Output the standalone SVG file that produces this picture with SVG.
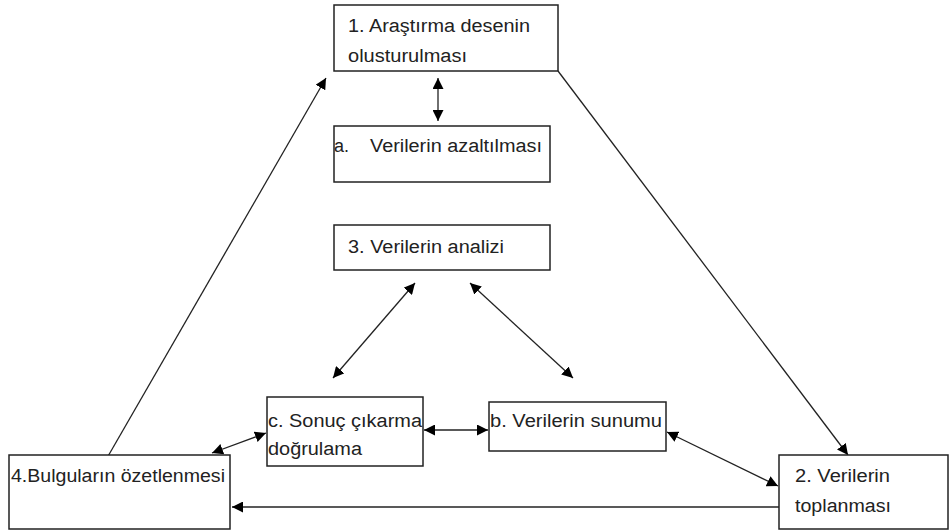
<svg xmlns="http://www.w3.org/2000/svg" width="949" height="531" viewBox="0 0 949 531">
<defs>
<marker id="ah" viewBox="0 0 10 10" refX="10" refY="5" markerWidth="11" markerHeight="11" markerUnits="userSpaceOnUse" orient="auto-start-reverse">
<path d="M0,0 L10,5 L0,10 z" fill="#000"/>
</marker>
<style>
.box{fill:#fff;stroke:#222;stroke-width:1.5}
.t{font-family:"Liberation Sans",Arial,sans-serif;font-size:18px;fill:#222}
.c{stroke:#222;stroke-width:1.3;fill:none}
.e{marker-end:url(#ah)}
.b{marker-start:url(#ah);marker-end:url(#ah)}
</style>
</defs>
<rect width="949" height="531" fill="#fff"/>
<g id="connectors">
<line class="c b" x1="438" y1="78" x2="438" y2="121"/>
<line class="c b" x1="415" y1="283" x2="333" y2="378"/>
<line class="c b" x1="470" y1="283" x2="573" y2="378"/>
<line class="c b" x1="424" y1="430" x2="488" y2="430"/>
<line class="c b" x1="667" y1="432" x2="778" y2="486"/>
<line class="c b" x1="266" y1="433" x2="212" y2="453"/>
<line class="c e" x1="558" y1="71" x2="848" y2="455"/>
<line class="c e" x1="779" y1="507" x2="232" y2="507"/>
<line class="c e" x1="107" y1="458" x2="326" y2="78"/>
</g>
<g id="n1">
<rect class="box" x="334" y="5" width="224" height="66"/>
<text class="t" x="348" y="32" textLength="182" lengthAdjust="spacingAndGlyphs">1. Araştırma desenin</text>
<text class="t" x="348" y="62" textLength="119" lengthAdjust="spacingAndGlyphs">olusturulması</text>
</g>
<g id="na">
<rect class="box" x="334" y="126" width="216" height="56"/>
<text class="t" x="334" y="152">a.</text>
<text class="t" x="370" y="152" textLength="172" lengthAdjust="spacingAndGlyphs">Verilerin azaltılması</text>
</g>
<g id="n3">
<rect class="box" x="334" y="225" width="216" height="45"/>
<text class="t" x="348" y="253" textLength="156" lengthAdjust="spacingAndGlyphs">3. Verilerin analizi</text>
</g>
<g id="nc">
<rect class="box" x="267" y="397" width="156" height="69"/>
<text class="t" x="268" y="427" textLength="154" lengthAdjust="spacingAndGlyphs">c.  Sonuç çıkarma</text>
<text class="t" x="268" y="455" textLength="94" lengthAdjust="spacingAndGlyphs">doğrulama</text>
</g>
<g id="nb">
<rect class="box" x="489" y="402" width="177" height="49"/>
<text class="t" x="490" y="427" textLength="172" lengthAdjust="spacingAndGlyphs">b. Verilerin sunumu</text>
</g>
<g id="n2">
<rect class="box" x="779" y="455" width="169" height="74"/>
<text class="t" x="795" y="482" textLength="95" lengthAdjust="spacingAndGlyphs">2. Verilerin</text>
<text class="t" x="795" y="512" textLength="96" lengthAdjust="spacingAndGlyphs">toplanması</text>
</g>
<g id="n4">
<rect class="box" x="9" y="455" width="221" height="74"/>
<text class="t" x="11" y="482" textLength="214" lengthAdjust="spacingAndGlyphs">4.Bulguların özetlenmesi</text>
</g>
</svg>
